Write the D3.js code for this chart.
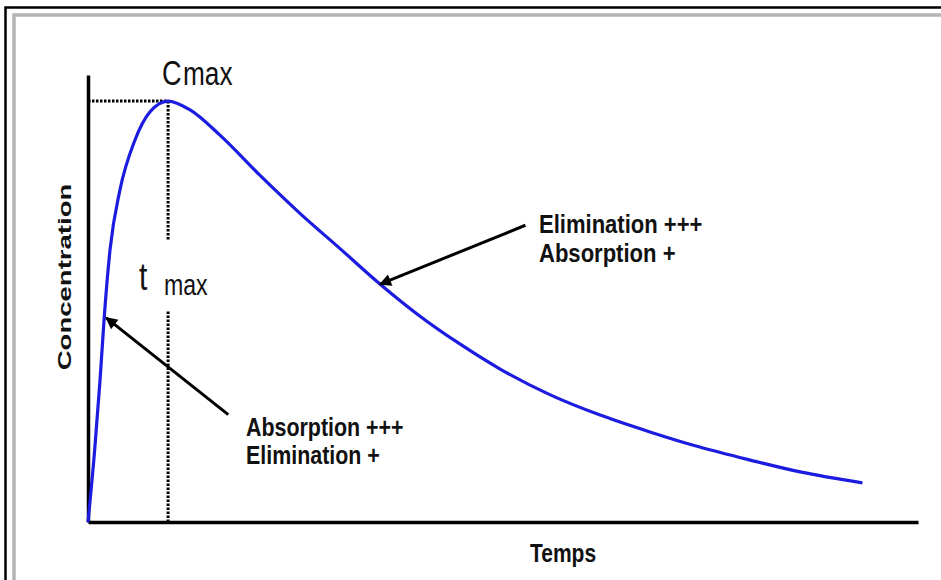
<!DOCTYPE html>
<html>
<head>
<meta charset="utf-8">
<script src="https://cdn.jsdelivr.net/npm/d3@7"></script>
<style>
  body { margin: 0; background: #fff; }
  svg text { font-family: "Liberation Sans", Arial, sans-serif; fill: #111; }
</style>
</head>
<body>
<div class="chart"></div>
<script>
// concentration / time curve (arbitrary units)
const timeVals = [0, 0.8, 1.45, 1.95, 2.65, 3.85, 5.65, 7.45, 9.65, 12.3, 15.9, 20.7, 25.5, 30.4, 35.2, 40, 44.8, 49.6, 55.7, 61.7, 67.7, 73.7, 79.8, 85.8, 93.3];
const concVals = [0, 17, 33.7, 48.5, 64.6, 78.9, 90.7, 97.4, 100, 97.9, 91.9, 82.4, 73.4, 64.9, 56.5, 48.9, 42.3, 36.4, 30.2, 25.4, 21.4, 17.8, 14.7, 11.9, 9.3];

const tMax = 9.65;
const cMax = 100;

const axisTitles = ["Temps", "Concentration"];
const noteLeft = ["Absorption +++", "Elimination +"];
const noteRight = ["Elimination +++", "Absorption +"];

let width = 941;
let height = 580;

let svg = d3.select('div.chart').append('svg')
  .attr('width', width)
  .attr('height', height);

// frame
svg.append('path')
  .attr('d', 'M5.5,580V7.5H941')
  .attr('fill', 'none')
  .attr('stroke', '#000')
  .attr('stroke-width', 2.5);
svg.append('path')
  .attr('d', 'M14,580V15H941')
  .attr('fill', 'none')
  .attr('stroke', '#b4b4b4')
  .attr('stroke-width', 3.5);

let x = d3.scaleLinear().domain([0, 100]).range([88, 918]);
let y = d3.scaleLinear().domain([0, 106.2]).range([522, 75]);

let defs = svg.append('defs');
defs.append('marker')
  .attr('id', 'arrow')
  .attr('viewBox', '0 0 10 10')
  .attr('refX', 9)
  .attr('refY', 5)
  .attr('markerWidth', 5)
  .attr('markerHeight', 4)
  .attr('markerUnits', 'strokeWidth')
  .attr('orient', 'auto')
  .append('path')
  .attr('d', 'M0,0L10,5L0,10z')
  .attr('fill', '#000');

// dotted guides to the peak
let guides = [
  [0, cMax, tMax, cMax],
  [tMax, cMax, tMax, 67],
  [tMax, 50, tMax, 0]
];
svg.selectAll('line.guide')
  .data(guides)
  .enter()
  .append('line')
  .attr('class', 'guide')
  .attr('x1', d => x(d[0])).attr('y1', d => y(d[1]))
  .attr('x2', d => x(d[2])).attr('y2', d => y(d[3]))
  .attr('stroke', '#000')
  .attr('stroke-width', 3)
  .attr('stroke-dasharray', '2.5,1.5');

// axes without ticks
svg.append('g')
  .attr('transform', 'translate(0,' + y(0) + ')')
  .call(d3.axisBottom(x).tickValues([]).tickSizeOuter(0))
  .select('.domain')
  .attr('stroke-width', 3.5);
svg.append('g')
  .attr('transform', 'translate(' + x(0) + ',0)')
  .call(d3.axisLeft(y).tickValues([]).tickSizeOuter(0))
  .select('.domain')
  .attr('stroke-width', 3.5);

let line = d3.line()
  .x((d, i) => x(timeVals[i]))
  .y(d => y(d))
  .curve(d3.curveMonotoneX);

svg.append('path')
  .datum(concVals)
  .attr('d', line)
  .attr('fill', 'none')
  .attr('stroke', '#1c1ce0')
  .attr('stroke-width', 3.2);

// arrows pointing at the curve
svg.append('line')
  .attr('x1', x(52.7)).attr('y1', y(70.5))
  .attr('x2', x(35.2)).attr('y2', y(56.5))
  .attr('stroke', '#000')
  .attr('stroke-width', 3)
  .attr('marker-end', 'url(#arrow)');
svg.append('line')
  .attr('x1', x(16.9)).attr('y1', y(25.5))
  .attr('x2', x(2.2)).attr('y2', y(48.5))
  .attr('stroke', '#000')
  .attr('stroke-width', 3)
  .attr('marker-end', 'url(#arrow)');

function label(px, py, txt, size, weight, sx, sy, anchor) {
  return svg.append('text')
    .attr('transform', 'translate(' + px + ',' + py + ') scale(' + sx + ',' + sy + ')')
    .attr('text-anchor', anchor || 'start')
    .style('font-size', size + 'px')
    .style('font-weight', weight)
    .text(txt);
}

noteLeft.forEach((t, i) => label(246, 436 + i * 28, t, 21, 'bold', 1.02, 1.27));
noteRight.forEach((t, i) => label(539, 233 + i * 29, t, 21, 'bold', 1.05, 1.27));

label(563, 562, axisTitles[0], 21, 'bold', 1, 1.27, 'middle');
svg.append('text')
  .attr('transform', 'translate(71,277) rotate(-90) scale(1.45,1)')
  .attr('text-anchor', 'middle')
  .style('font-size', '19px')
  .style('font-weight', 'bold')
  .text(axisTitles[1]);

// Cmax / tmax
label(162, 85, 'C', 27, 'normal', 1, 1.3);
label(183, 85, 'max', 25, 'normal', 1.05, 1.3);
label(139, 290, 't', 30, 'normal', 1, 1.3);
label(164, 295, 'max', 22, 'normal', 1.05, 1.3);
</script>
</body>
</html>
